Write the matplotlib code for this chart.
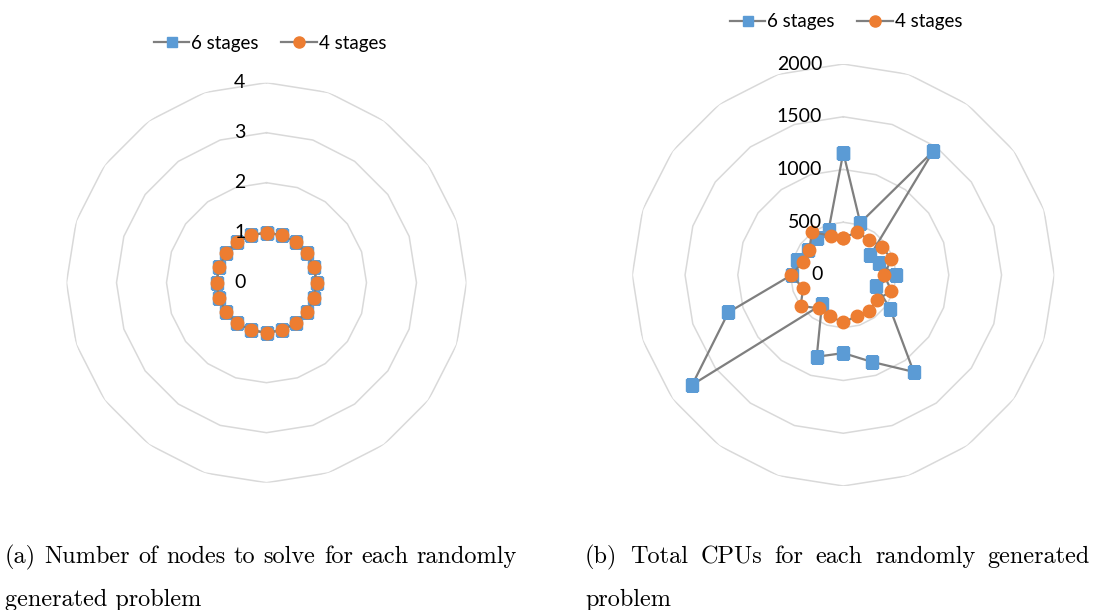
import numpy as np
import matplotlib
matplotlib.use("Agg")
import matplotlib.pyplot as plt
from matplotlib.transforms import offset_copy
from matplotlib.lines import Line2D

# problems 1..20 around the radar, first one at the top, clockwise
problems = list(range(1, 21))

# (a) nodes needed to solve each problem
nodes_6 = [1, 1, 1, 1, 1, 1, 1, 1, 1, 1, 1, 1, 1, 1, 1, 1, 1, 1, 1, 1]
nodes_4 = [1, 1, 1, 1, 1, 1, 1, 1, 1, 1, 1, 1, 1, 1, 1, 1, 1, 1, 1, 1]

# (b) total CPUs for each problem
cpus_6 = [1160, 520, 1450, 315, 355, 500, 330, 550, 1135, 865,
          740, 815, 345, 1770, 1145, 490, 460, 410, 430, 450]
cpus_4 = [355, 425, 415, 455, 480, 385, 480, 400, 420, 410,
          450, 410, 390, 500, 400, 495, 400, 400, 505, 390]

nodes_ticks = [0, 1, 2, 3, 4]
cpus_ticks = [0, 500, 1000, 1500, 2000]

series_names = ["6 stages", "4 stages"]

BLUE = "#5b9bd5"
ORANGE = "#ed7d31"
LINE = "#7f7f7f"
GRID = "#d9d9d9"
TICK_FONT = "Lato"

W, H = 1093, 610
fig = plt.figure(figsize=(W / 100, H / 100), dpi=100)


def radar(center, radius, ticks, s6, s4):
    cx, cy = center
    ax = fig.add_axes([(cx - radius) / W, (H - cy - radius) / H,
                       2 * radius / W, 2 * radius / H], projection="polar")
    ax.set_theta_zero_location("N")
    ax.set_theta_direction(-1)
    ax.set_xticks([])
    ax.set_yticks([])
    ax.grid(False)
    ax.spines["polar"].set_visible(False)
    ax.patch.set_alpha(0)

    n = len(problems)
    theta = np.linspace(0, 2 * np.pi, n, endpoint=False)
    theta = np.append(theta, theta[0])

    # polygon gridlines
    for t in ticks[1:]:
        ax.plot(theta, [t] * (n + 1), color=GRID, lw=1.1, zorder=1)

    # ring labels left of the top spoke
    off = offset_copy(ax.transData, fig=fig, x=-21, y=0, units="dots")
    for t in ticks:
        ax.text(0, t, str(t), transform=off, ha="right", va="center",
                fontsize=14, family=TICK_FONT, color="black", zorder=5)

    ax.plot(theta, s6 + s6[:1], color=LINE, lw=1.6, marker="s", ms=8,
            mfc=BLUE, mec=BLUE, zorder=3)
    ax.plot(theta, s4 + s4[:1], color=LINE, lw=1.6, marker="o", ms=9,
            mfc=ORANGE, mec=ORANGE, zorder=4)
    ax.set_rlim(0, ticks[-1])
    return ax


radar((266.5, 282.7), 200, nodes_ticks, nodes_6, nodes_4)
radar((843.3, 275.0), 211, cpus_ticks, cpus_6, cpus_4)

handles = [
    Line2D([], [], color=LINE, lw=1.6, marker="s", ms=7, mfc=BLUE, mec=BLUE),
    Line2D([], [], color=LINE, lw=1.6, marker="o", ms=8, mfc=ORANGE, mec=ORANGE),
]
for x, y in [(270, 43), (846, 22)]:
    fig.legend(handles, series_names, loc="center",
               bbox_to_anchor=(x / W, 1 - y / H), ncol=2, frameon=False,
               prop={"family": TICK_FONT, "size": 13.5},
               handlelength=1.9, handletextpad=0.1, columnspacing=1.2,
               borderpad=0, borderaxespad=0)

# captions, set like a justified LaTeX subcaption
cap = {"family": "cmr10", "size": 17.5, "va": "baseline", "ha": "left"}
renderer = fig.canvas.get_renderer()


def justified(x0, x1, y, line):
    words = line.split()
    texts = [fig.text(0, 1 - y / H, w, **cap) for w in words]
    widths = [t.get_window_extent(renderer).width for t in texts]
    gap = (x1 - x0 - sum(widths)) / (len(words) - 1)
    x = x0
    for t, w in zip(texts, widths):
        t.set_x(x / W)
        x += w + gap


justified(5, 517, 563, "(a) Number of nodes to solve for each randomly")
fig.text(5 / W, 1 - 606 / H, "generated problem", **cap)
justified(585, 1090, 563, "(b) Total CPUs for each randomly generated")
fig.text(585 / W, 1 - 606 / H, "problem", **cap)

fig.savefig("out.png", dpi=100)
